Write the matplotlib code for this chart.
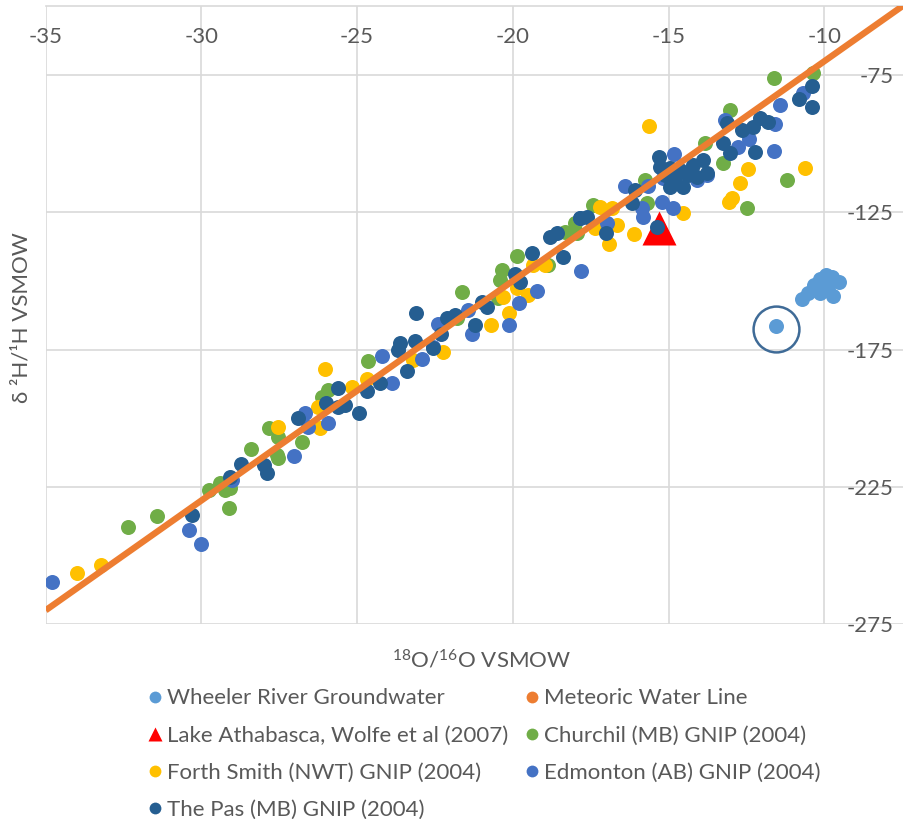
import matplotlib
matplotlib.use("Agg")
import matplotlib.pyplot as plt
from matplotlib.lines import Line2D
import numpy as np

plt.rcParams['font.family'] = ['Lato', 'DejaVu Sans']
plt.rcParams['mathtext.fontset'] = 'custom'
plt.rcParams['mathtext.rm'] = 'Lato'

# ---- data: delta 18O (x) and delta 2H (y), per mil VSMOW ----
wheeler_x = [-11.56, -10.71, -10.51, -10.33, -10.14, -9.94, -9.76, -9.52, -9.71, -9.98, -10.14, -9.87]
wheeler_y = [-166.4, -156.7, -154.5, -151.5, -149.4, -147.9, -148.5, -150.3, -155.5, -152.1, -154.5, -153.3]

athabasca_x = [-15.30]
athabasca_y = [-130.8]

churchil_x = [-32.37, -31.42, -29.75, -29.40, -29.24, -29.08, -29.11, -28.41, -27.58, -27.82,
              -27.53, -27.53, -26.76, -26.14, -25.93, -24.66, -21.80, -21.64, -20.47, -20.41,
              -20.36, -19.87, -18.86, -18.32, -17.95, -18.00, -17.41, -15.75, -15.70, -13.83,
              -13.24, -13.02, -12.49, -11.20, -11.61, -10.37]
churchil_y = [-239.5, -235.5, -226.2, -223.7, -226.2, -225.6, -232.8, -211.2, -213.4, -203.7,
              -206.8, -214.6, -208.8, -192.2, -189.7, -179.1, -163.6, -153.9, -156.3, -149.7,
              -146.0, -140.9, -144.2, -132.1, -132.7, -129.0, -122.3, -113.2, -121.7, -99.9,
              -107.2, -87.7, -123.6, -113.2, -76.2, -74.4]

forth_smith_x = [-34.00, -33.22, -27.53, -26.25, -26.19, -26.02, -25.17, -24.69, -23.20, -22.23,
                 -20.71, -20.31, -20.11, -19.87, -19.50, -19.34, -18.97, -17.36, -17.20, -16.90,
                 -16.64, -16.11, -15.62, -14.52, -12.44, -12.70, -12.97, -13.06, -10.62, -16.82]
forth_smith_y = [-256.3, -253.5, -203.1, -195.8, -203.7, -182.2, -188.5, -185.8, -178.8, -175.8,
                 -166.1, -155.8, -161.8, -152.7, -155.1, -144.2, -144.2, -130.8, -123.0, -136.7,
                 -129.6, -132.9, -93.5, -125.4, -109.3, -114.4, -119.9, -121.3, -108.8, -123.6]

edmonton_x = [-34.81, -30.41, -30.01, -29.03, -27.02, -26.67, -26.57, -25.93, -24.21, -23.89,
              -22.93, -22.55, -22.39, -21.43, -21.32, -20.11, -19.79, -19.21, -17.81, -17.84,
              -16.99, -16.40, -15.67, -15.86, -15.81, -15.22, -14.85, -14.82, -15.17, -13.78,
              -14.10, -13.19, -12.41, -12.76, -11.58, -11.61, -11.42, -10.69]
edmonton_y = [-259.6, -240.7, -245.8, -222.5, -213.7, -198.2, -203.1, -201.9, -177.4, -187.1,
              -178.6, -174.0, -165.7, -160.6, -169.5, -166.1, -158.2, -153.7, -146.3, -127.2,
              -129.0, -115.4, -115.4, -123.6, -126.6, -121.1, -123.6, -103.9, -112.6, -111.4,
              -113.2, -91.4, -98.4, -101.3, -92.8, -102.6, -85.9, -81.7]

the_pas_x = [-30.29, -29.08, -28.73, -27.99, -27.90, -26.91, -26.00, -25.60, -25.60, -25.39,
             -24.93, -24.69, -24.26, -23.68, -23.62, -23.41, -23.14, -23.12, -22.55, -22.12,
             -22.31, -21.86, -21.21, -21.00, -20.84, -19.93, -19.77, -19.39, -18.81, -18.59,
             -18.40, -17.63, -17.01, -16.18, -16.08, -15.38, -15.30, -15.27, -14.95, -14.63,
             -14.20, -13.88, -14.09, -14.52, -14.95, -13.77, -14.79, -14.37, -15.11, -13.24,
             -13.02, -13.13, -12.65, -12.28, -12.22, -12.06, -11.80, -10.40, -10.80, -10.40,
             -17.84]
the_pas_y = [-235.3, -221.3, -216.7, -217.1, -220.1, -199.8, -194.6, -188.9, -196.0, -195.2,
             -198.0, -190.0, -187.1, -175.2, -172.7, -182.8, -171.9, -161.8, -174.3, -163.6,
             -169.5, -162.4, -166.1, -157.6, -159.4, -147.5, -150.3, -139.9, -133.9, -132.7,
             -141.2, -126.6, -132.7, -121.7, -116.9, -130.2, -104.8, -108.4, -109.0, -109.6,
             -107.8, -106.0, -112.0, -115.7, -115.7, -110.8, -112.5, -111.4, -111.4, -99.9,
             -103.5, -92.4, -95.0, -93.8, -102.9, -90.8, -92.0, -79.0, -83.8, -86.5,
             -127.2]

# Global meteoric water line: d2H = 8 * d18O + 10
mwl_slope = 8.0
mwl_intercept = 10.0

x_ticks = [-35, -30, -25, -20, -15, -10]
y_ticks = [-275, -225, -175, -125, -75]
x_limits = (-35, -7.47)
y_limits = (-275, -50)

labels = {
    "wheeler": "Wheeler River Groundwater",
    "mwl": "Meteoric Water Line",
    "athabasca": "Lake Athabasca, Wolfe et al (2007)",
    "churchil": "Churchil (MB) GNIP (2004)",
    "forth": "Forth Smith (NWT) GNIP (2004)",
    "edmonton": "Edmonton (AB) GNIP (2004)",
    "pas": "The Pas (MB) GNIP (2004)",
}

colors = {
    "wheeler": "#5B9BD5",
    "mwl": "#ED7D31",
    "athabasca": "#FF0000",
    "churchil": "#70AD47",
    "forth": "#FFC000",
    "edmonton": "#4472C4",
    "pas": "#255E91",
}

TEXT = "#595959"
GRID = "#D9D9D9"
FS = 16

W, H = 904, 819
fig = plt.figure(figsize=(W / 100, H / 100), dpi=100)
ax_l, ax_r, ax_t, ax_b = 45.7, 903.0, 6.4, 624.0
ax = fig.add_axes([ax_l / W, 1 - ax_b / H, (ax_r - ax_l) / W, (ax_b - ax_t) / H])

ms = 10.8
ax.plot(wheeler_x, wheeler_y, 'o', ms=ms, color=colors["wheeler"], mec='none', zorder=3)
ax.plot(athabasca_x, athabasca_y, '^', ms=24.5, color=colors["athabasca"], mec='none', zorder=4)
ax.plot(churchil_x, churchil_y, 'o', ms=ms, color=colors["churchil"], mec='none', zorder=5)
ax.plot(forth_smith_x, forth_smith_y, 'o', ms=ms, color=colors["forth"], mec='none', zorder=6)
ax.plot(edmonton_x, edmonton_y, 'o', ms=ms, color=colors["edmonton"], mec='none', zorder=7)
ax.plot(the_pas_x, the_pas_y, 'o', ms=ms, color=colors["pas"], mec='none', zorder=8)

# highlighted groundwater sample
ax.plot(wheeler_x[0], wheeler_y[0] - 1.0, 'o', ms=33, mfc='none', mec='#3F6B97', mew=1.8, zorder=9)

mwl_x = np.array(x_limits)
ax.plot(mwl_x, mwl_slope * mwl_x + mwl_intercept, '-', color=colors["mwl"], lw=4.6,
        solid_capstyle='butt', zorder=10)

ax.set_xlim(*x_limits)
ax.set_ylim(*y_limits)
ax.set_xticks(x_ticks)
ax.set_yticks(y_ticks)
ax.set_xticklabels([str(v) for v in x_ticks])
ax.set_yticklabels([str(v) for v in y_ticks])

for s in ['left', 'right', 'bottom']:
    ax.spines[s].set_visible(False)
ax.spines['top'].set_color(GRID)
ax.spines['top'].set_linewidth(1.2)
ax.grid(True, color=GRID, lw=1.2, zorder=0)
ax.set_axisbelow(True)

ax.tick_params(axis='x', which='both', length=0, top=False, bottom=False,
               labeltop=True, labelbottom=False, pad=-29.5, labelsize=FS, labelcolor=TEXT)
ax.tick_params(axis='y', which='both', length=0, left=False, right=False,
               labelleft=False, labelright=True, pad=-6.5, labelsize=FS, labelcolor=TEXT)
for t in ax.yaxis.get_major_ticks():
    t.label2.set_horizontalalignment('right')

# axis titles
fig.text(482 / W, 1 - 660 / H, r'$\mathregular{^{18}}$O/$\mathregular{^{16}}$O VSMOW',
         ha='center', va='center', fontsize=FS, color=TEXT)
fig.text(22 / W, 1 - 318 / H, 'δ ²H/¹H VSMOW', rotation=90,
         ha='center', va='center', fontsize=FS, color=TEXT)

# legend, laid out row by row in two columns
def dot(key):
    return Line2D([], [], ls='none', marker='o', ms=8.5, color=colors[key], mec='none')

tri = Line2D([], [], ls='none', marker='^', ms=9.5, color=colors["athabasca"], mec='none')

col1 = [(dot("wheeler"), labels["wheeler"]), (tri, labels["athabasca"]),
        (dot("forth"), labels["forth"]), (dot("pas"), labels["pas"])]
col2 = [(dot("mwl"), labels["mwl"]), (dot("churchil"), labels["churchil"]),
        (dot("edmonton"), labels["edmonton"])]

legend_kw = dict(loc='upper left', frameon=False, fontsize=FS, labelcolor=TEXT,
                 borderpad=0, borderaxespad=0, handlelength=0.5, handletextpad=0.29,
                 labelspacing=0.77)
fig.legend([h for h, _ in col1], [l for _, l in col1],
           bbox_to_anchor=(149.5 / W, 1 - 688.5 / H), **legend_kw)
fig.legend([h for h, _ in col2], [l for _, l in col2],
           bbox_to_anchor=(526.5 / W, 1 - 688.5 / H), **legend_kw)

fig.savefig("out.png", dpi=100)
